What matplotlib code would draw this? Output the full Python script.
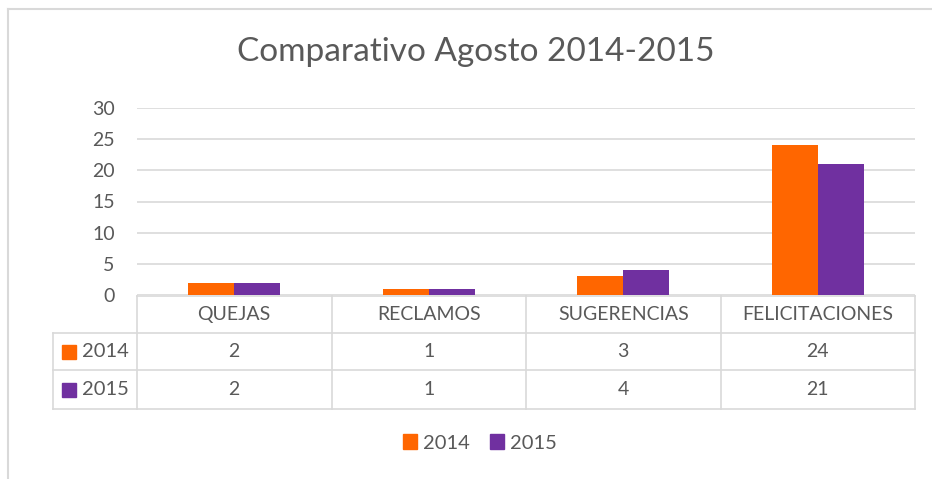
import matplotlib.pyplot as plt
import matplotlib.transforms as mtransforms
from matplotlib.patches import Patch
from matplotlib.lines import Line2D
import numpy as np

plt.rcParams['font.family'] = ['Lato', 'DejaVu Sans']

# Data
categories = ['QUEJAS', 'RECLAMOS', 'SUGERENCIAS', 'FELICITACIONES']
series_names = ['2014', '2015']
values_2014 = [2, 1, 3, 24]
values_2015 = [2, 1, 4, 21]
yticks = [0, 5, 10, 15, 20, 25, 30]

colors = ['#FF6600', '#7030A0']
text_color = '#595959'
line_color = '#D9D9D9'

W, H = 932, 479
fig = plt.figure(figsize=(W / 100, H / 100), dpi=100)

# plot area in pixels: x 137..915, y 108..295
left, right, top, bottom = 137, 915, 108, 295
ax = fig.add_axes([left / W, 1 - bottom / H, (right - left) / W, (bottom - top) / H])

x = np.arange(len(categories))
bw = 0.237
ax.bar(x - bw / 2, values_2014, bw, color=colors[0], zorder=3)
ax.bar(x + bw / 2, values_2015, bw, color=colors[1], zorder=3)

ax.set_xlim(-0.5, len(categories) - 0.5)
ax.set_ylim(0, 30)
ax.set_yticks(yticks)
ax.set_yticklabels([str(t) for t in yticks], fontsize=14, color=text_color)
ax.tick_params(axis='y', length=0, pad=16)
ax.set_xticks([])
ax.yaxis.grid(True, color=line_color, linewidth=1.2, zorder=0)
for s in ax.spines.values():
    s.set_visible(False)

# data table below the axes
trans = mtransforms.blended_transform_factory(ax.transData, ax.transAxes)
ph = bottom - top
def yf(py):
    return (bottom - py) / ph

unit = (right - left) / len(categories)
lab_left = -0.5 - (left - 53) / unit
row_y = [296, 333, 370, 409]
kw = dict(transform=trans, clip_on=False, color=line_color, linewidth=1.2)
# horizontal lines
ax.add_line(Line2D([-0.5, 3.5], [yf(row_y[0])] * 2, **kw))
for ry in row_y[1:]:
    ax.add_line(Line2D([lab_left, 3.5], [yf(ry)] * 2, **kw))
# vertical lines
for vx in np.arange(-0.5, len(categories), 1.0):
    ax.add_line(Line2D([vx, vx], [yf(row_y[0]), yf(row_y[-1])], **kw))
ax.add_line(Line2D([lab_left, lab_left], [yf(row_y[1]), yf(row_y[-1])], **kw))

for i, cat in enumerate(categories):
    ax.text(i, yf((row_y[0] + row_y[1]) / 2), cat, transform=trans, ha='center',
            va='center', fontsize=14, color=text_color)
for r, (name, vals) in enumerate(zip(series_names, [values_2014, values_2015])):
    cy = yf((row_y[r + 1] + row_y[r + 2]) / 2)
    for i, v in enumerate(vals):
        ax.text(i, cy, str(v), transform=trans, ha='center', va='center',
                fontsize=14, color=text_color)
    ax.plot([lab_left + 16 / unit], [cy], marker='s', markersize=10, color=colors[r],
            transform=trans, clip_on=False, linestyle='none')
    ax.text(lab_left + 29 / unit, cy, name, transform=trans, ha='left', va='center',
            fontsize=14.5, color=text_color)

# title
fig.text(476 / W, 1 - 52 / H, 'Comparativo Agosto 2014-2015', ha='center', va='center',
         fontsize=24, color=text_color)

# legend
handles = [Patch(color=c, label=n) for c, n in zip(colors, series_names)]
fig.legend(handles=handles, loc='center', bbox_to_anchor=(480 / W, 1 - 443 / H), ncol=2,
           frameon=False, fontsize=14.5, handlelength=0.7, handleheight=0.7,
           handletextpad=0.3, columnspacing=1.0, labelcolor=text_color)

# outer chart border (partially cropped)
fig.add_artist(Line2D([8 / W, 8 / W], [0, 1 - 9 / H], transform=fig.transFigure,
                      color=line_color, linewidth=1.5))
fig.add_artist(Line2D([8 / W, 1], [1 - 9 / H, 1 - 9 / H], transform=fig.transFigure,
                      color=line_color, linewidth=1.5))

plt.savefig('out.png', dpi=100)
